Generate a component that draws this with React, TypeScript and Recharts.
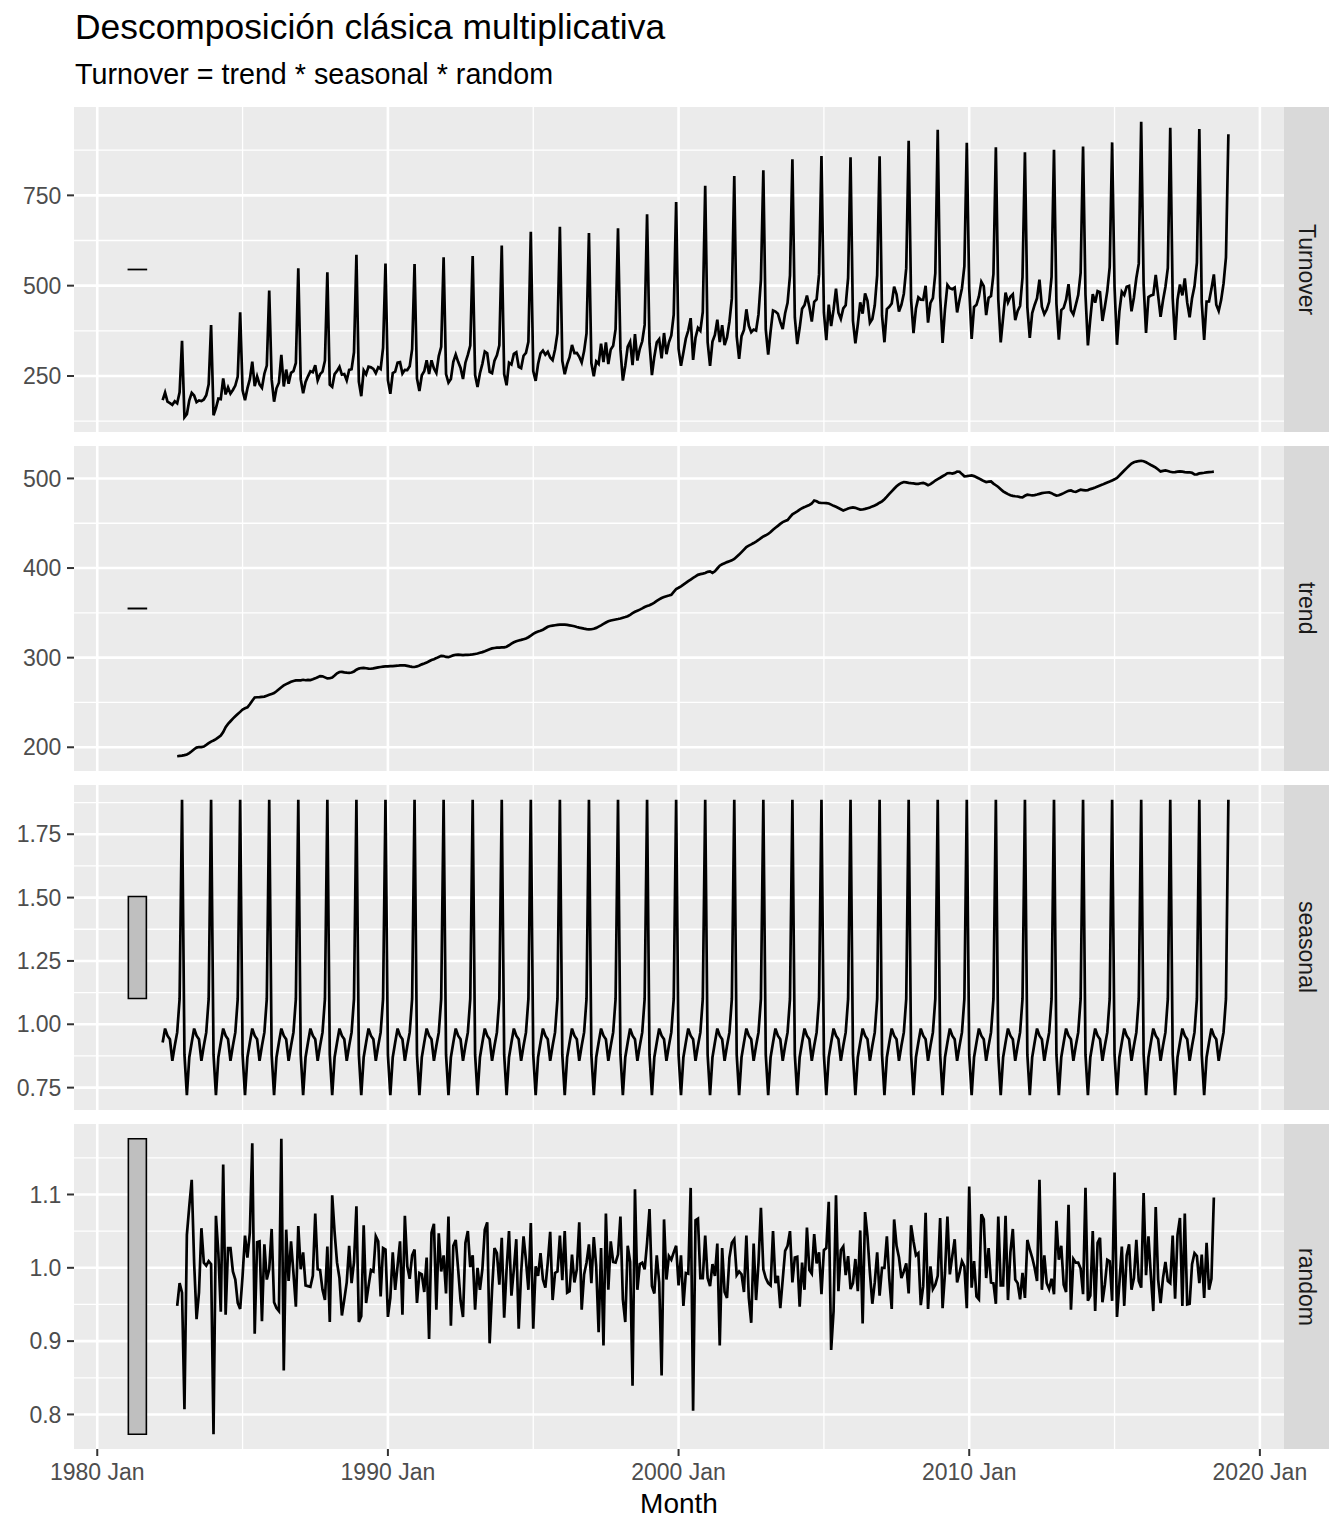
import { CartesianGrid, Line, LineChart, ReferenceArea, XAxis, YAxis } from 'recharts';

// Turnover, one row per year (1982 starts in April)
const turnover = [
  183, 204, 179, 175, 170, 180, 174.3, 204.9, 347.3,
  135.8, 144.4, 182.5, 203.2, 195.8, 177.3, 182.1, 180.6, 185.0, 196.7, 227.0, 391.0,
  141.2, 161.2, 187.3, 185.8, 243.4, 198.9, 218.4, 201.3, 211.2, 223.4, 248.2, 426.4,
  210.6, 183.0, 215.7, 241.2, 289.8, 222.0, 249.1, 227.0, 217.4, 256.2, 278.7, 486.6,
  240.5, 178.8, 215.8, 231.2, 308.7, 220.9, 267.7, 228.5, 258.8, 263.4, 286.1, 547.8,
  241.2, 202.4, 233.3, 249.0, 263.3, 260.5, 279.9, 237.6, 254.9, 262.2, 292.3, 537.2,
  225.7, 219.8, 255.3, 264.0, 275.3, 253.8, 255.4, 237.6, 266.7, 268.6, 315.6, 585.7,
  234.5, 193.9, 265.7, 254.7, 275.8, 273.9, 269.6, 257.7, 274.2, 269.4, 327.5, 561.0,
  238.4, 200.6, 258.1, 261.8, 286.9, 288.2, 256.8, 267.1, 266.6, 276.7, 324.2, 559.8,
  243.1, 208.2, 252.2, 263.3, 293.5, 255.3, 293.3, 270.6, 258.4, 304.9, 330.5, 578.9,
  255.4, 231.5, 241.6, 289.2, 309.4, 289.1, 272.4, 241.8, 286.7, 308.2, 334.0, 582.3,
  252.4, 219.3, 257.7, 283.6, 317.7, 312.7, 261.2, 257.7, 292.1, 307.2, 334.6, 611.4,
  255.5, 224.3, 286.7, 281.7, 311.2, 315.8, 275.4, 271.8, 306.0, 314.2, 344.4, 649.5,
  263.5, 236.6, 283.3, 312.4, 320.4, 309.2, 316.9, 301.1, 293.7, 323.2, 368.4, 663.3,
  291.5, 254.7, 282.9, 301.9, 335.8, 313.5, 313.9, 303.2, 287.3, 318.9, 367.6, 645.4,
  285.8, 249.3, 290.5, 283.2, 339.2, 288.2, 342.8, 282.8, 323.6, 333.7, 379.5, 658.7,
  323.6, 237.4, 278.2, 330.9, 344.6, 280.1, 365.9, 292.6, 325.2, 346.0, 391.4, 697.4,
  340.7, 252.6, 303.4, 342.9, 351.6, 298.6, 368.9, 310.4, 343.3, 362.3, 419.5, 731.4,
  324.7, 278.0, 314.7, 353.3, 375.8, 410.1, 294.7, 356.1, 383.1, 375.3, 427.1, 776.8,
  343.4, 278.2, 345.0, 363.8, 405.7, 343.7, 390.6, 335.6, 356.8, 400.1, 464.8, 803.8,
  359.5, 297.3, 360.2, 377.4, 434.6, 389.2, 371.1, 378.4, 375.7, 420.4, 515.8, 819.2,
  378.7, 308.8, 373.8, 431.4, 428.2, 422.3, 399.5, 380.0, 423.5, 452.3, 527.6, 850.0,
  411.9, 338.5, 383.3, 436.2, 446.2, 472.8, 441.3, 400.8, 455.0, 462.1, 531.2, 859.2,
  425.9, 349.4, 447.6, 388.0, 434.2, 491.5, 425.4, 408.1, 437.1, 445.8, 521.3, 855.6,
  402.8, 340.4, 392.6, 453.7, 422.6, 478.8, 458.2, 397.5, 408.0, 445.7, 529.2, 858.0,
  417.5, 343.3, 435.2, 441.3, 450.6, 497.3, 476.1, 428.3, 446.6, 477.7, 548.5, 901.1,
  460.6, 368.8, 437.1, 467.5, 461.4, 460.8, 499.7, 397.9, 452.5, 465.7, 534.9, 931.3,
  470.7, 341.8, 435.4, 502.3, 492.9, 490.4, 494.9, 425.8, 461.1, 493.0, 553.7, 895.6,
  491.8, 352.7, 441.2, 447.1, 470.4, 510.8, 498.5, 418.6, 466.5, 471.1, 532.2, 883.2,
  461.8, 342.9, 412.3, 481.0, 453.4, 469.2, 476.1, 404.4, 429.8, 443.8, 523.1, 869.2,
  440.1, 355.3, 424.3, 446.7, 465.3, 516.4, 441.4, 421.4, 433.8, 455.3, 524.0, 876.3,
  450.3, 350.3, 432.3, 438.5, 461.0, 504.2, 431.8, 420.5, 446.8, 474.0, 535.6, 885.4,
  474.9, 334.8, 408.5, 476.4, 453.1, 484.7, 482.0, 402.3, 441.9, 484.9, 551.2, 896.6,
  496.2, 336.3, 428.6, 483.2, 474.2, 496.8, 499.4, 428.9, 467.4, 521.3, 561.0, 953.7,
  503.5, 369.3, 468.7, 472.6, 475.1, 529.6, 472.2, 413.8, 458.7, 496.5, 549.0, 937.0,
  465.7, 349.7, 461.4, 503.4, 473.0, 520.1, 453.0, 412.6, 465.5, 498.1, 564.0, 933.6,
  453.3, 349.6, 455.9, 456.4, 491.1, 531.2, 447, 430, 460, 506, 578, 919,
];

// trend, Oct 1982 - Jun 2018
const trend = [
  190.0, 190.3, 190.6,
  191.2, 192.0, 193.5, 195.5, 197.8, 199.6, 200.3, 200.2, 200.8, 202.6, 204.5, 206.3,
  207.5, 209, 211, 213, 217, 222.5, 226, 229, 232, 234.5, 237, 239.5,
  242, 243.5, 244.5, 248, 252, 255.5, 255.8, 256, 256.3, 256.5, 257.5, 258.5,
  259.5, 260.5, 262.5, 264.8, 267, 269, 270.5, 271.8, 273, 274, 274.6, 274.8,
  274.7, 275.3, 274.8, 275.2, 275.0, 275.8, 276.9, 278.2, 279.4, 279.2, 278, 276.8,
  277, 277.8, 280, 282.5, 284, 284.2, 283.6, 283.2, 283, 283.4, 284.6, 286.5,
  287.8, 288.4, 288.6, 288.2, 287.8, 287.6, 288, 288.6, 289.2, 289.6, 289.9, 290.2,
  290.3, 290.5, 290.6, 290.8, 291, 291.3, 291.5, 291.4, 290.8, 290.2, 289.8, 289.6,
  290.2, 291.2, 292.5, 293.4, 294.5, 296, 297.4, 298.3, 299.5, 300.8, 302, 301.8,
  300.8, 300.5, 301.5, 302.6, 303.2, 303.4, 303.1, 302.8, 303, 303.2, 303.3, 303.6,
  304.1, 304.6, 305.4, 306.2, 307.2, 308.3, 309.4, 310.3, 310.8, 311.1, 311.3, 311.4,
  311.5, 312.2, 313.8, 315.6, 317.2, 318.3, 319.1, 319.8, 320.6, 321.4, 322.8, 324.6,
  326.5, 328, 329.2, 330, 331.2, 332.8, 334.4, 335.3, 335.8, 336.2, 336.6, 336.9,
  337, 336.9, 336.6, 336.1, 335.6, 335, 334.2, 333.5, 333, 332.4, 331.9, 331.6,
  331.7, 332.3, 333.2, 334.6, 336, 337.6, 339.2, 340.6, 341.4, 342, 342.6, 343.1,
  343.7, 344.5, 345.3, 346.2, 347.8, 349.6, 351.2, 352.4, 353.6, 355, 356.5, 357.6,
  358.5, 359.8, 361.4, 363.3, 365, 366.6, 367.7, 368.5, 369.3, 370.2, 373.5, 376.5,
  378, 379.6, 381.5, 383.4, 385.4, 387.2, 389, 390.6, 392.4, 393.2, 393.8, 394.5,
  395.8, 396.3, 394.6, 396.4, 399.5, 402.6, 404.2, 405.4, 406.6, 407.6, 408.6, 410.2,
  412.6, 415, 417.8, 420.6, 423.5, 425, 426.4, 427.9, 429.5, 431.3, 433.4, 435.2,
  436.5, 438, 440.2, 442.8, 445, 447.1, 449.3, 451.2, 452.5, 453.6, 456.8, 459.9,
  461.6, 463.2, 465.2, 466.8, 468, 469.3, 470.4, 472, 475.4, 474.5, 473, 472.6,
  472.6, 472.5, 472, 470.8, 469.4, 468.3, 467, 465.6, 464.2, 465.2, 466.4, 467.2,
  467.6, 467.2, 466.2, 465.2, 465.3, 466, 466.8, 467.6, 468.8, 469.8, 471.2, 472.9,
  474.4, 476.8, 479.6, 482.8, 485.6, 488.5, 491.2, 493.4, 495, 496, 495.6, 495.1,
  494.7, 494.4, 494, 493.9, 494.6, 494.9, 494, 492.4, 493.6, 495.5, 497.7, 499.3,
  500.8, 502.4, 504, 505.8, 506, 505.4, 506.2, 507.6, 507.5, 504.8, 502.4, 502.5,
  503, 503.4, 502.6, 501.3, 500, 498.5, 497, 496, 496.4, 496.6, 494.2, 492.4,
  490.4, 488, 485.6, 484, 482.5, 481.2, 480.5, 480.1, 479.8, 479.1, 478.9, 480.6,
  481.8, 481.5, 481, 481.4, 482, 482.8, 483.6, 484, 484.3, 484.4, 483.6, 482,
  480.9, 481.2, 482.4, 483.6, 485, 486.2, 486.6, 485.4, 484.9, 486.3, 487.4, 487,
  486.6, 487, 488.1, 488.9, 489.8, 490.9, 492, 493.1, 494.3, 495.5, 496.6, 497.8,
  499, 500.6, 503.2, 506, 508.8, 511.5, 514.2, 516.6, 518, 518.8, 519.4, 519.7,
  519.2, 518, 516.5, 515, 513.6, 512, 510, 507.8, 508.4, 508.9, 508.3, 507.5,
  506.9, 507, 507.5, 507.9, 507.6, 507.1, 506.7, 506.9, 506.2, 504.4, 504.6, 505.6,
  506, 506.3, 506.8, 507, 507.2, 507.5,
];

// seasonal factors, Jan..Dec
const seasonalFactors = [0.88, 0.72, 0.87, 0.928, 0.983, 0.955, 0.941, 0.856, 0.915, 0.968, 1.10, 1.886];

// random, Oct 1982 - Jun 2018
const random = [
  0.948, 0.979, 0.966,
  0.807, 1.045, 1.084, 1.12, 1.007, 0.93, 0.966, 1.054, 1.007, 1.003, 1.009, 1.005,
  0.773, 1.071, 1.02, 0.94, 1.141, 0.936, 1.027, 1.027, 0.995, 0.984, 0.952, 0.944,
  0.989, 1.044, 1.014, 1.048, 1.17, 0.91, 1.035, 1.036, 0.927, 1.032, 0.984, 0.998,
  1.053, 0.953, 0.945, 0.941, 1.176, 0.86, 1.052, 0.982, 1.036, 0.993, 0.947, 1.057,
  0.998, 1.021, 0.976, 0.975, 0.974, 0.989, 1.074, 0.998, 0.997, 0.97, 0.956, 1.029,
  0.926, 1.099, 1.048, 1.007, 0.986, 0.935, 0.957, 0.98, 1.03, 0.979, 1.008, 1.084,
  0.926, 0.934, 1.058, 0.952, 0.975, 0.997, 0.995, 1.043, 1.036, 0.961, 1.027, 1.025,
  0.933, 0.959, 1.021, 0.97, 1.003, 1.036, 0.936, 1.071, 1.002, 0.985, 1.017, 1.025,
  0.952, 0.993, 0.991, 0.967, 1.014, 0.903, 1.048, 1.06, 0.943, 1.047, 0.995, 1.017,
  0.965, 1.07, 0.921, 1.03, 1.038, 0.998, 0.955, 0.933, 1.034, 1.05, 1.001, 1.017,
  0.943, 1.0, 0.97, 0.998, 1.052, 1.062, 0.897, 0.97, 1.027, 1.02, 0.977, 1.041,
  0.932, 0.998, 1.05, 0.962, 0.998, 1.039, 0.917, 0.993, 1.043, 1.01, 0.97, 1.061,
  0.917, 1.002, 0.989, 1.02, 0.984, 0.973, 1.007, 1.049, 0.956, 0.993, 0.995, 1.044,
  0.983, 1.05, 0.966, 0.968, 1.018, 0.98, 0.998, 1.062, 0.943, 0.991, 1.007, 1.032,
  0.979, 1.042, 1.002, 0.912, 1.027, 0.894, 1.074, 0.97, 1.036, 1.008, 1.007, 1.018,
  1.07, 0.957, 0.926, 1.03, 1.008, 0.839, 1.107, 0.97, 1.005, 1.007, 0.998, 1.034,
  1.08, 0.975, 0.965, 1.017, 0.98, 0.853, 1.066, 0.984, 1.016, 1.011, 1.021, 1.03,
  0.976, 1.017, 0.948, 0.993, 0.992, 1.109, 0.805, 1.065, 1.067, 0.986, 0.986, 1.044,
  0.986, 0.975, 1.005, 0.989, 1.033, 0.894, 1.027, 0.967, 0.959, 1.014, 1.034, 1.039,
  0.99, 0.995, 0.991, 0.967, 1.044, 0.959, 0.925, 1.033, 0.956, 1.007, 1.082, 0.998,
  0.986, 0.979, 0.976, 1.05, 0.979, 0.989, 0.945, 0.984, 1.023, 1.03, 1.05, 0.98,
  1.014, 1.015, 0.947, 1.007, 0.97, 1.055, 0.997, 0.992, 1.046, 1.006, 1.021, 0.964,
  1.024, 1.027, 1.09, 0.888, 0.941, 1.099, 0.968, 1.024, 1.029, 0.99, 1.016, 0.971,
  0.979, 1.012, 0.968, 1.051, 0.924, 1.076, 1.043, 0.993, 0.951, 0.98, 1.021, 0.962,
  1.0, 1.0, 1.043, 0.985, 0.944, 1.066, 1.03, 1.014, 0.986, 0.995, 1.006, 0.965,
  1.058, 1.036, 1.017, 1.02, 0.949, 0.975, 1.075, 0.944, 1.002, 0.971, 0.977, 0.989,
  1.068, 0.945, 0.993, 1.07, 0.991, 1.016, 1.039, 0.98, 0.993, 1.009, 1.002, 0.945,
  1.111, 0.973, 1.009, 0.961, 0.957, 1.073, 1.066, 0.986, 1.027, 0.98, 0.979, 0.951,
  1.07, 0.976, 0.976, 1.071, 0.956, 1.021, 1.053, 0.984, 0.979, 0.957, 0.993, 0.959,
  1.038, 1.025, 1.014, 1.0, 0.982, 1.12, 0.97, 1.017, 0.979, 0.971, 0.985, 0.964,
  1.064, 1.011, 1.03, 0.977, 0.967, 1.086, 0.943, 1.012, 1.007, 1.007, 0.999, 0.964,
  1.109, 0.955, 0.962, 1.05, 0.941, 1.034, 1.041, 0.953, 0.977, 1.011, 1.009, 0.955,
  1.13, 0.933, 0.979, 1.029, 0.948, 1.017, 1.032, 0.97, 0.986, 1.038, 0.982, 0.973,
  1.102, 0.99, 1.043, 0.989, 0.941, 1.083, 0.984, 0.952, 0.986, 1.008, 0.982, 0.979,
  1.044, 0.958, 1.045, 1.068, 0.948, 1.074, 0.95, 0.951, 1.005, 1.02, 1.016, 0.979,
  1.018, 0.959, 1.034, 0.97, 0.985, 1.096,
];

const xMajor = [1980, 1990, 2000, 2010, 2020];
const xMinor = [1985, 1995, 2005, 2015];

const START = 1982 + 3 / 12; // 1982 Apr
const OFFSET = 6; // trend / random start six months later
const X_DOMAIN = [1979.2, 2020.83];
const BAR_X = [1981.07, 1981.69];

const rows = turnover.map((v, i) => {
  const j = i - OFFSET;
  return {
    t: START + i / 12,
    turnover: v,
    trend: j >= 0 && j < trend.length ? trend[j] : null,
    seasonal: seasonalFactors[(3 + i) % 12],
    random: j >= 0 && j < random.length ? random[j] : null,
  };
});

const range = (vals: number[]) => [Math.min(...vals), Math.max(...vals)];
const barHalf = (range(random)[1] - range(random)[0]) / 2;

const PANELS = [
  { key: 'turnover', label: 'Turnover', vals: turnover, major: [250, 500, 750], minor: [125, 375, 625, 875], fmt: (v: number) => String(v) },
  { key: 'trend', label: 'trend', vals: trend, major: [200, 300, 400, 500], minor: [150, 250, 350, 450, 550], fmt: (v: number) => String(v) },
  { key: 'seasonal', label: 'seasonal', vals: seasonalFactors, major: [0.75, 1, 1.25, 1.5, 1.75], minor: [0.875, 1.125, 1.375, 1.625, 1.875], fmt: (v: number) => v.toFixed(2) },
  { key: 'random', label: 'random', vals: random, major: [0.8, 0.9, 1.0, 1.1], minor: [0.85, 0.95, 1.05, 1.15], fmt: (v: number) => v.toFixed(1) },
];

const PANEL_TOP = [107, 446, 785, 1124];
const PANEL_H = 325;
const PLOT_RIGHT = 1284;
const CHART_W = 1344;
const AXIS_W = 74;
const TICK = { fill: '#4D4D4D', fontSize: 23 };

function Panel({ p, top, last }: { p: (typeof PANELS)[number]; top: number; last: boolean }) {
  const [lo, hi] = range(p.vals);
  const pad = (hi - lo) * 0.05;
  const mid = (lo + hi) / 2;
  return (
    <div style={{ position: 'absolute', left: 0, top }}>
      <LineChart width={CHART_W} height={PANEL_H + (last ? 50 : 0)} data={rows}
        margin={{ top: 0, right: CHART_W - PLOT_RIGHT, bottom: 0, left: 0 }}>
        <CartesianGrid fill="#EBEBEB" stroke="#FFFFFF" strokeWidth={1.3}
          horizontalValues={p.minor} verticalValues={xMinor} />
        <CartesianGrid stroke="#FFFFFF" strokeWidth={2.6}
          horizontalValues={p.major} verticalValues={xMajor} />
        <XAxis dataKey="t" type="number" domain={X_DOMAIN} ticks={xMajor} hide={!last}
          height={50} axisLine={false} tickSize={7} tickMargin={8}
          tickLine={{ stroke: '#333333', strokeWidth: 2 }} tick={TICK}
          tickFormatter={(v) => `${v} Jan`} />
        <YAxis type="number" domain={[lo - pad, hi + pad]} ticks={p.major} width={AXIS_W}
          axisLine={false} tickSize={7} tickMargin={5.6}
          tickLine={{ stroke: '#333333', strokeWidth: 2 }} tick={TICK}
          tickFormatter={p.fmt} />
        <ReferenceArea x1={BAR_X[0]} x2={BAR_X[1]} y1={mid - barHalf} y2={mid + barHalf}
          fill="#BFBFBF" fillOpacity={1} stroke="#000000" strokeWidth={1.6} />
        <Line type="linear" dataKey={p.key} stroke="#000000" strokeWidth={2.7}
          dot={false} isAnimationActive={false} />
      </LineChart>
      <div style={{
        position: 'absolute', left: PLOT_RIGHT, top: 0, width: 45, height: PANEL_H,
        background: '#D9D9D9', display: 'flex', alignItems: 'center', justifyContent: 'center',
      }}>
        <span style={{ writingMode: 'vertical-rl', fontSize: 23, color: '#1A1A1A' }}>{p.label}</span>
      </div>
    </div>
  );
}

export default function App() {
  return (
    <div style={{
      position: 'absolute', left: 0, top: 0, width: 1344, height: 1536, background: '#FFFFFF',
      fontFamily: '"Liberation Sans", Arial, sans-serif',
    }}>
      <div style={{ position: 'absolute', left: 75, top: 10, fontSize: 35.4, lineHeight: 1, whiteSpace: 'nowrap' }}>
        Descomposición clásica multiplicativa
      </div>
      <div style={{ position: 'absolute', left: 75, top: 59.5, fontSize: 28.7, lineHeight: 1, whiteSpace: 'nowrap' }}>
        Turnover = trend * seasonal * random
      </div>
      {PANELS.map((p, i) => (
        <Panel key={p.key} p={p} top={PANEL_TOP[i]} last={i === PANELS.length - 1} />
      ))}
      <div style={{
        position: 'absolute', left: AXIS_W, width: PLOT_RIGHT - AXIS_W, top: 1490,
        textAlign: 'center', fontSize: 28, lineHeight: 1,
      }}>
        Month
      </div>
    </div>
  );
}
